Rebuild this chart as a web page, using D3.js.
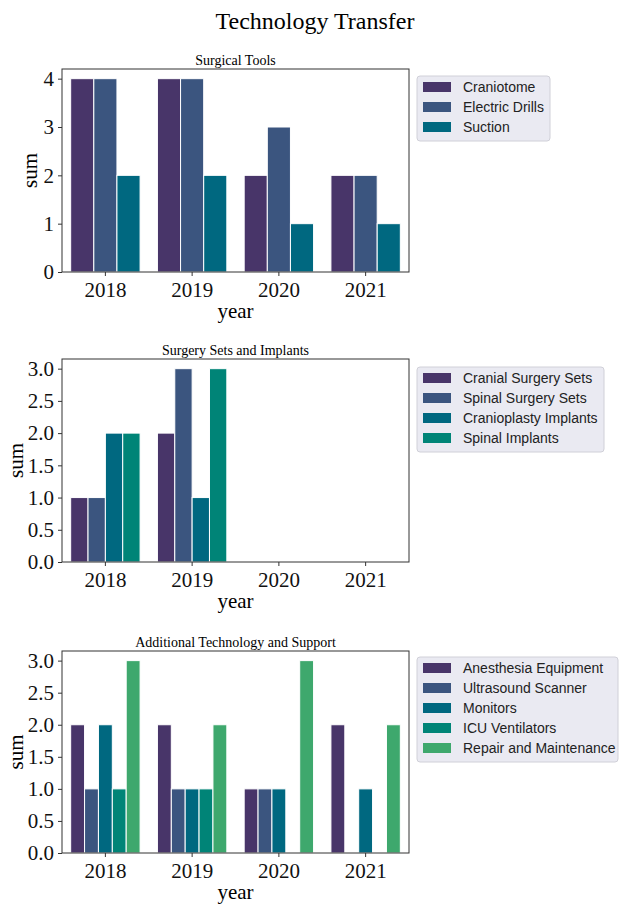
<!DOCTYPE html>
<html>
<head>
<meta charset="utf-8">
<script src="https://cdn.jsdelivr.net/npm/d3@7"></script>
<style>
  body { margin: 0; background: #fff; }
  svg text { font-family: "Liberation Serif", "Times New Roman", serif; }
  .legend text { font-family: "Liberation Sans", Arial, sans-serif; }
</style>
</head>
<body>
<div class="visHolder"></div>
<script>
// data
var years = ["2018", "2019", "2020", "2021"];

var toolNames = ["Craniotome", "Electric Drills", "Suction"];
var craniotome = [4, 4, 2, 2];
var electricDrills = [4, 4, 3, 2];
var suction = [2, 2, 1, 1];

var setNames = ["Cranial Surgery Sets", "Spinal Surgery Sets", "Cranioplasty Implants", "Spinal Implants"];
var cranialSets = [1, 2, 0, 0];
var spinalSets = [1, 3, 0, 0];
var cranioplasty = [2, 1, 0, 0];
var spinalImplants = [2, 3, 0, 0];

var supportNames = ["Anesthesia Equipment", "Ultrasound Scanner", "Monitors", "ICU Ventilators", "Repair and Maintenance"];
var anesthesia = [2, 2, 1, 2];
var ultrasound = [1, 1, 1, 0];
var monitors = [2, 1, 1, 1];
var ventilators = [1, 1, 0, 0];
var repair = [3, 2, 3, 2];

var yTicks1 = [0, 1, 2, 3, 4];
var yTicks2 = [0, 0.5, 1, 1.5, 2, 2.5, 3];

var colors = ["#483569", "#3b557f", "#006880", "#008477", "#3ea86d"];

var W = 620, H = 904;
var svg = d3.select(".visHolder").append("svg")
    .attr("width", W)
    .attr("height", H);

svg.append("text")
    .attr("x", 315).attr("y", 29)
    .attr("text-anchor", "middle")
    .style("font-size", "24px")
    .text("Technology Transfer");

var left = 62, right = 409;

function panel(cfg) {
    var g = svg.append("g");
    var top = cfg.top, bottom = cfg.bottom;

    var x = d3.scaleBand().domain(years).range([left, right]).paddingInner(0).paddingOuter(0);
    var y = d3.scaleLinear().domain([0, cfg.max * 1.05]).range([bottom, top]);
    var xs = d3.scaleBand().domain(d3.range(cfg.series.length))
        .range([x.bandwidth() * 0.1, x.bandwidth() * 0.9]);

    cfg.series.forEach(function(vals, si) {
        g.selectAll(".b" + si)
            .data(vals.map(function(v, i) { return { year: years[i], v: v }; }).filter(function(d) { return d.v > 0; }))
            .enter()
            .append("rect")
            .attr("x", function(d) { return x(d.year) + xs(si); })
            .attr("width", xs.bandwidth())
            .attr("y", function(d) { return y(d.v); })
            .attr("height", function(d) { return y(0) - y(d.v); })
            .style("fill", colors[si])
            .style("stroke", "#fff")
            .style("stroke-width", 1);
    });

    var ya = g.append("g")
        .attr("transform", "translate(" + left + ",0)")
        .call(d3.axisLeft(y).tickValues(cfg.ticks).tickSize(4).tickPadding(4)
            .tickFormat(cfg.fmt));
    var xa = g.append("g")
        .attr("transform", "translate(0," + bottom + ")")
        .call(d3.axisBottom(x).tickSize(4).tickPadding(6));
    [ya, xa].forEach(function(a) {
        a.select(".domain").remove();
        a.selectAll("line").style("stroke", "#333");
        a.selectAll("text").style("font-size", "21px").style("fill", "#111")
            .style("font-family", "'Liberation Serif', serif");
    });

    g.append("rect")
        .attr("x", left).attr("y", top)
        .attr("width", right - left).attr("height", bottom - top)
        .style("fill", "none").style("stroke", "#333").style("stroke-width", 1);

    g.append("text")
        .attr("x", (left + right) / 2).attr("y", top - 4)
        .attr("text-anchor", "middle")
        .style("font-size", "14px")
        .text(cfg.title);

    g.append("text")
        .attr("x", (left + right) / 2).attr("y", bottom + 46)
        .attr("text-anchor", "middle")
        .style("font-size", "21px")
        .text("year");

    g.append("text")
        .attr("transform", "translate(" + cfg.sumX + "," + (top + bottom) / 2 + ") rotate(-90)")
        .attr("text-anchor", "middle")
        .style("font-size", "21px")
        .text("sum");

    // legend
    var lg = g.append("g").attr("class", "legend");
    var n = cfg.names.length;
    lg.append("rect")
        .attr("x", 417).attr("y", cfg.legTop)
        .attr("width", cfg.legW).attr("height", n * 20 + 5)
        .attr("rx", 3)
        .style("fill", "#eaeaf2").style("stroke", "#d0d0d8");
    var item = lg.selectAll(".item")
        .data(cfg.names)
        .enter()
        .append("g")
        .attr("transform", function(d, i) { return "translate(0," + (cfg.legTop + 11 + i * 20) + ")"; });
    item.append("rect")
        .attr("x", 423).attr("y", -5)
        .attr("width", 28).attr("height", 10)
        .style("fill", function(d, i) { return colors[i]; });
    item.append("text")
        .attr("x", 463).attr("y", 5)
        .style("font-size", "14px")
        .style("fill", "#222")
        .text(function(d) { return d; });
}

panel({ title: "Surgical Tools", top: 69, bottom: 272, max: 4, ticks: yTicks1, fmt: d3.format("d"), sumX: 37,
    series: [craniotome, electricDrills, suction], names: toolNames, legTop: 76, legW: 133 });
panel({ title: "Surgery Sets and Implants", top: 359, bottom: 562, max: 3, ticks: yTicks2, fmt: d3.format(".1f"), sumX: 23,
    series: [cranialSets, spinalSets, cranioplasty, spinalImplants], names: setNames, legTop: 367, legW: 187 });
panel({ title: "Additional Technology and Support", top: 651, bottom: 853, max: 3, ticks: yTicks2, fmt: d3.format(".1f"), sumX: 23,
    series: [anesthesia, ultrasound, monitors, ventilators, repair], names: supportNames, legTop: 657, legW: 201 });
</script>
</body>
</html>
